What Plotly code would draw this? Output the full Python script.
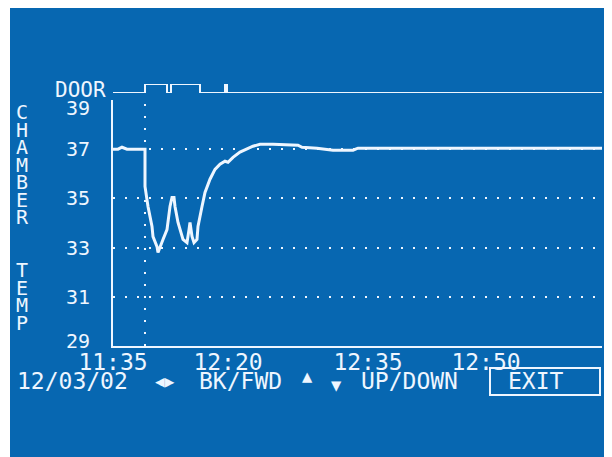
import plotly.graph_objects as go

# --------------------------- DATA ---------------------------

# chamber temperature, one sample per screen column starting at 11:35
sample = [0, 5, 9, 14, 32, 32, 35, 39, 40, 44,
          45, 47, 50, 54, 57, 59, 61, 62, 65, 70,
          74, 76, 77, 79, 81, 84, 85, 89, 92, 97,
          102, 107, 112, 115, 120, 127, 134, 140, 147, 160,
          185, 189, 204, 220, 240, 245, 264, 489]
temp = [37.0, 37.0, 37.08, 37.0, 37.0, 35.49, 34.67, 33.86, 33.45, 33.04,
        32.80, 33.04, 33.33, 33.73, 34.67, 35.04, 35.04, 34.67, 34.02, 33.33,
        33.2, 33.73, 34.02, 33.45, 33.2, 33.33, 33.86, 34.67, 35.24, 35.78,
        36.18, 36.39, 36.51, 36.47, 36.67, 36.88, 37.0, 37.12, 37.2, 37.2,
        37.16, 37.08, 37.04, 36.96, 36.96, 37.04, 37.04, 37.04]

# door state (0 = closed, 1 = open)
door_sample = [0, 32, 54, 58, 87, 112, 114, 489]
door_open = [0, 1, 0, 1, 0, 1, 0, 0]

time_ticks = [0, 115, 255, 373]
time_labels = ["11:35", "12:20", "12:35", "12:50"]
temp_ticks = [29, 31, 33, 35, 37, 39]
cursor_sample = 32

# --------------------------- LAYOUT HELPERS ---------------------------

# the page body keeps an 8px margin, so the figure is drawn 8px smaller
# and all helper positions below are given in window pixels
PAGE = 8
W, H = 612 - PAGE, 457 - PAGE
L, R, T, B = 105, 10, 72, 111
BLUE = "#0767b1"
INK = "#eef6ff"
FONT = "DejaVu Sans Mono"


def px(x):
    # window pixel -> paper x
    return (x - PAGE - L) / (W - L - R)


def py(y):
    # window pixel -> paper y
    return (H - B - (y - PAGE)) / (H - T - B)


fig = go.Figure()

fig.add_trace(go.Scatter(
    x=sample, y=temp, mode="lines",
    line=dict(color=INK, width=3),
    xaxis="x", yaxis="y",
))

fig.add_trace(go.Scatter(
    x=door_sample, y=door_open, mode="lines",
    line=dict(color=INK, width=2, shape="hv"),
    xaxis="x", yaxis="y2",
))

# cursor line
fig.add_shape(type="line", xref="x", yref="y",
              x0=cursor_sample, x1=cursor_sample, y0=29, y1=39,
              line=dict(color=INK, width=2, dash="2px,10px"), layer="below")

# EXIT button frame
fig.add_shape(type="rect", xref="paper", yref="paper",
              x0=px(490), x1=px(600), y0=py(395), y1=py(368),
              line=dict(color=INK, width=2))

# white strip at the left edge of the photo
fig.add_shape(type="rect", xref="paper", yref="paper",
              x0=px(0), x1=px(10), y0=py(H + 20), y1=py(0),
              fillcolor="white", line=dict(width=0))

annotations = []

# temperature tick labels (the end ones sit inside the axis range on the LCD)
for t in temp_ticks:
    shift = -8 if t == temp_ticks[-1] else (5 if t == temp_ticks[0] else 0)
    annotations.append(dict(
        text=str(t), xref="paper", yref="y", x=px(92), y=t, yshift=shift,
        xanchor="right", yanchor="middle", showarrow=False,
        font=dict(family=FONT, size=20, color=INK),
    ))

# vertical axis title, one letter per row: small base size sets the row
# pitch, the letters themselves are drawn larger
letters = ["C", "H", "A", "M", "B", "E", "R", "", "", "T", "E", "M", "P"]
stack = "<br>".join(
    f"<span style='font-size:20px'>{c}</span>" if c else " " for c in letters
)
annotations.append(dict(
    text=stack, xref="paper", yref="paper", x=px(22), y=py(217),
    xanchor="center", yanchor="middle", showarrow=False, align="center",
    font=dict(family=FONT, size=13.5, color=INK),
))

annotations.append(dict(
    text="DOOR", xref="paper", yref="paper", x=px(108), y=py(90),
    xanchor="right", yanchor="middle", showarrow=False,
    font=dict(family=FONT, size=21, color=INK),
))

# bottom status row
status = [
    ("12/03/02", 15, 381, 23),
    ("◀▶", 153, 381, 16),
    ("BK/FWD", 197, 381, 23),
    ("▲", 300, 376, 17),
    ("▼", 329, 385, 17),
    ("UP/DOWN", 359, 381, 23),
    ("EXIT", 506, 381, 23),
]
for txt, x0, y0, size in status:
    annotations.append(dict(
        text=txt, xref="paper", yref="paper", x=px(x0), y=py(y0),
        xanchor="left", yanchor="middle", showarrow=False,
        font=dict(family=FONT, size=size, color=INK),
    ))

fig.update_layout(
    width=W, height=H,
    margin=dict(l=L, r=R, t=T, b=B, pad=0),
    paper_bgcolor=BLUE,
    plot_bgcolor=BLUE,
    showlegend=False,
    annotations=annotations,
    xaxis=dict(
        range=[0, 489],
        tickvals=time_ticks, ticktext=time_labels,
        showgrid=False, zeroline=False,
        showline=True, linecolor=INK, linewidth=2,
        ticks="", ticklabelstandoff=-6,
        tickfont=dict(family=FONT, size=23, color=INK),
        anchor="y",
    ),
    yaxis=dict(
        domain=[0, py(100)],
        range=[29, 39],
        tickvals=temp_ticks, showticklabels=False,
        showgrid=True, gridcolor=INK, gridwidth=2, griddash="2px,10px",
        zeroline=False,
        showline=True, linecolor=INK, linewidth=2,
        ticks="",
        anchor="x",
    ),
    yaxis2=dict(
        domain=[py(93), py(84)],
        range=[0, 1],
        visible=False,
        anchor="x",
    ),
)

fig.write_html("out.html")
